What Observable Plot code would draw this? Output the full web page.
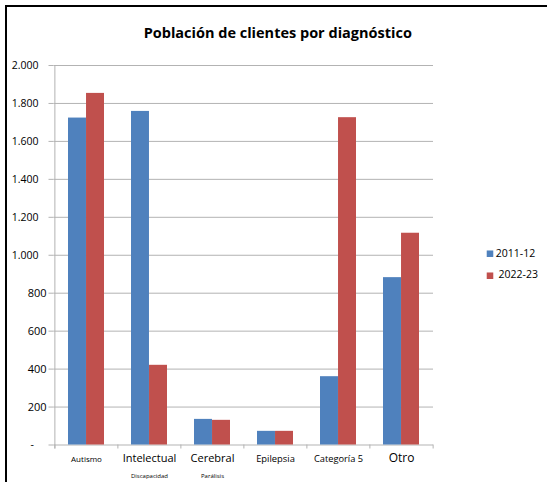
<!DOCTYPE html>
<html><head><meta charset="utf-8">
<script src="https://cdn.jsdelivr.net/npm/d3@7"></script>
<script src="https://cdn.jsdelivr.net/npm/@observablehq/plot@0.6"></script>
<style>
body{margin:0;background:#fff;overflow:hidden;font-family:"Open Sans",sans-serif}
#wrap{position:relative;width:547px;height:482px;overflow:hidden}
#border{position:absolute;left:5px;top:5px;width:700px;height:700px;border-left:2.5px solid #000;border-top:2.5px solid #000;box-sizing:border-box;pointer-events:none}
#wrap svg{position:absolute;left:0;top:0}
</style></head><body><div id="wrap"><div id="border"></div></div>
<script>
// ---- data ----
const title = "Población de clientes por diagnóstico";
const categories = ["Autismo", "Intelectual", "Cerebral", "Epilepsia", "Categoría 5", "Otro"];
const subLabels = ["", "Discapacidad", "Parálisis", "", "", ""];
const seriesNames = ["2011-12", "2022-23"];
const values2011 = [1723, 1758, 135, 72, 360, 882];
const values2022 = [1853, 420, 130, 72, 1725, 1116];
const yTicks = [0, 200, 400, 600, 800, 1000, 1200, 1400, 1600, 1800, 2000];

// ---- styles ----
const labelSize = {"Autismo": 8, "Intelectual": 11, "Cerebral": 11, "Epilepsia": 9.4, "Categoría 5": 9.3, "Otro": 12};
const blue = "#4F81BD", red = "#C0504D", grid = "#b3b3b3";

const rows = categories.map((c, i) => ({category: c, sub: subLabels[i], a: values2011[i], b: values2022[i]}));

const width = 547, height = 482;
const marginLeft = 53.5, marginRight = 114, marginTop = 65, marginBottom = 37.5;
const innerW = width - marginLeft - marginRight;
const band = d3.scaleBand(categories, [0, innerW]).paddingInner(0.43).paddingOuter(0.215);
const bw = band.bandwidth(), step = band.step();

const loc = d3.formatLocale({decimal: ",", thousands: ".", grouping: [3], currency: ["", ""]});
const fmt = loc.format(",");

const chart = Plot.plot({
  width, height, marginLeft, marginRight, marginTop, marginBottom,
  style: {fontFamily: "Open Sans", color: "#000", background: "transparent"},
  x: {type: "band", domain: categories, paddingInner: 0.43, paddingOuter: 0.215},
  y: {domain: [0, 2000]},
  marks: [
    Plot.gridY(yTicks, {stroke: grid, strokeOpacity: 1}),
    Plot.ruleX([categories[0]], {x: d => d, dx: -step / 2, stroke: grid, insetBottom: -4}),
    Plot.axisX({ticks: categories, tickSize: 4, tickFormat: () => "", dx: -step / 2, stroke: grid, label: null}),
    Plot.axisX({ticks: categories.slice(-1), tickSize: 4, tickFormat: () => "", dx: step / 2, stroke: grid, label: null}),
    Plot.axisY({ticks: yTicks, tickSize: 5, tickFormat: () => "", stroke: grid, label: null}),
    Plot.axisY({ticks: yTicks.filter(d => d >= 1000), tickSize: 0, tickPadding: 15.5, fontSize: 10.5, tickFormat: fmt, label: null}),
    Plot.axisY({ticks: yTicks.filter(d => d > 0 && d < 1000), tickSize: 0, tickPadding: 7.5, fontSize: 11, tickFormat: fmt, label: null}),
    Plot.axisY({ticks: [0], tickSize: 0, tickPadding: 20, fontSize: 10.5, tickFormat: () => "-", label: null}),
    Plot.barY(rows, {x: "category", y: "a", fill: blue, insetRight: bw / 2}),
    Plot.barY(rows, {x: "category", y: "b", fill: red, insetLeft: bw / 2}),
    Plot.text(rows, {x: "category", text: "category", frameAnchor: "bottom", dy: 16.5, fontSize: d => labelSize[d.category], fill: "#000"}),
    Plot.text(rows.filter(d => d.sub), {x: "category", text: "sub", frameAnchor: "bottom", dy: 32.5, fontSize: 6, fill: "#000"}),
    Plot.text([title], {frameAnchor: "top", dx: 34, dy: -38, fontSize: 14.5, fontWeight: "bold", fill: "#000"}),
    Plot.dot([seriesNames[0]], {frameAnchor: "right", dx: 56.5, dy: -1.5, symbol: "square", r: 3.7, fill: blue, stroke: null}),
    Plot.dot([seriesNames[1]], {frameAnchor: "right", dx: 56.5, dy: 20.5, symbol: "square", r: 3.7, fill: red, stroke: null}),
    Plot.text([seriesNames[0]], {frameAnchor: "right", dx: 62.3, dy: -1.5, textAnchor: "start", fontSize: 10.5, fill: "#000"}),
    Plot.text([seriesNames[1]], {frameAnchor: "right", dx: 65, dy: 19.5, textAnchor: "start", fontSize: 10.5, fill: "#000"})
  ]
});
document.getElementById("wrap").insertBefore(chart, document.getElementById("border"));
</script>
</body></html>
